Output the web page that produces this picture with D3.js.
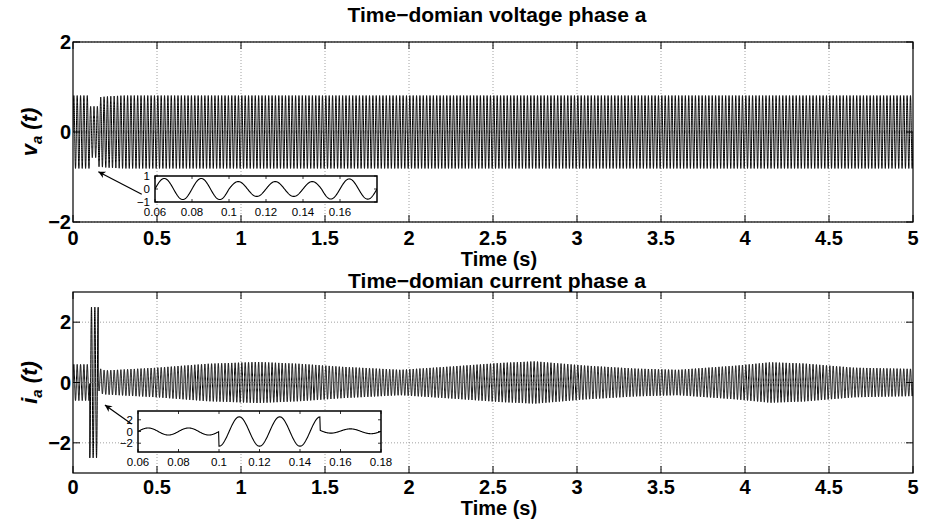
<!DOCTYPE html>
<html>
<head>
<meta charset="utf-8">
<script src="https://cdn.jsdelivr.net/npm/d3@7/dist/d3.min.js"></script>
<style>
  body { margin: 0; background: #fff; }
  text { font-family: "Liberation Sans", Arial, Helvetica, sans-serif; fill: #000; }
</style>
</head>
<body>
<svg id="fig" width="939" height="523"></svg>
<script>
// ---- Phase-a waveforms of the 50 Hz system, 0..5 s ----
const lineFrequencyHz = 50;
const timeTicks = [0, 0.5, 1, 1.5, 2, 2.5, 3, 3.5, 4, 4.5, 5];

// Voltage: peak amplitude envelope (knots), one segment
const voltageTicks = [-2, 0, 2];
const voltageEnvTime = [0, 0.10, 0.10, 0.15, 0.15, 0.20, 0.30, 5];
const voltageEnvAmp  = [0.81, 0.81, 0.57, 0.57, 0.77, 0.79, 0.81, 0.81];
const voltageSegStart = [0];
const voltageSegPhaseDeg = [0];
const voltageSegDC = [0];

// Current: peak amplitude envelope (knots) and fault segments
const currentTicks = [-2, 0, 2];
const currentEnvTime = [0, 0.10, 0.10, 0.15, 0.15, 0.20, 0.50, 0.80, 1.10, 1.35, 1.60, 1.95, 2.25, 2.55, 2.75, 3.05, 3.35, 3.60, 3.95, 4.15, 4.35, 4.65, 5];
const currentEnvAmp  = [0.60, 0.60, 2.50, 2.50, 0.40, 0.40, 0.49, 0.62, 0.68, 0.62, 0.52, 0.42, 0.53, 0.65, 0.70, 0.56, 0.46, 0.42, 0.56, 0.67, 0.63, 0.49, 0.45];
const currentSegStart = [0, 0.10, 0.15];
const currentSegPhaseDeg = [0, -90, 0];
const currentSegDC = [0, 0, 0.18];
const currentDCDecay = 0.012;

// Zoomed views of the disturbance
const insetTimeDomain = [0.06, 0.18];
const voltageInsetTicksX = [0.06, 0.08, 0.10, 0.12, 0.14, 0.16];
const voltageInsetTicksY = [-1, 0, 1];
const voltageInsetDomain = [-1, 1];
const currentInsetTicksX = [0.06, 0.08, 0.10, 0.12, 0.14, 0.16, 0.18];
const currentInsetTicksY = [-2, 0, 2];
const currentInsetDomain = [-3.5, 3.5];

// Arrow annotations, in the parent axes' data units: [tail t, tail y, head t, head y]
const voltageArrow = [0.409, -1.384, 0.151, -0.882];
const currentArrow = [0.349, -1.376, 0.190, -0.746];

// ---- sampled series ----
const sampleRate = 5000;
const sampleTimes = d3.range(0, 5 * sampleRate + 1).map(i => i / sampleRate);

function waveform(envT, envA, segStart, segPhase, segDC, dcTau) {
  return t => {
    const s = d3.bisectRight(segStart, t) - 1;
    const k = d3.bisectRight(envT, t);
    let a;
    if (k >= envT.length) a = envA[envA.length - 1];
    else {
      const t0 = envT[k - 1], t1 = envT[k];
      a = envA[k - 1] + (envA[k] - envA[k - 1]) * (t - t0) / (t1 - t0);
    }
    const dc = segDC[s] * Math.exp(-(t - segStart[s]) / (dcTau || 1));
    return a * Math.sin(2 * Math.PI * lineFrequencyHz * t + segPhase[s] * Math.PI / 180) + dc;
  };
}
const vFn = waveform(voltageEnvTime, voltageEnvAmp, voltageSegStart, voltageSegPhaseDeg, voltageSegDC, 1);
const iFn = waveform(currentEnvTime, currentEnvAmp, currentSegStart, currentSegPhaseDeg, currentSegDC, currentDCDecay);
const voltageSeries = sampleTimes.map(t => ({ t, v: vFn(t) }));
const currentSeries = sampleTimes.map(t => ({ t, v: iFn(t) }));

// ---- layout ----
const svg = d3.select("#fig");
const plotLeft = 73, plotRight = 913;
const tickLen = 7;
const fmt = d => (d < 0 ? "\u2212" : "") + String(Math.abs(d));

const panels = [
  { key: "v", top: 42, bottom: 222, domain: [-2, 2], ticks: voltageTicks, series: voltageSeries,
    title: "Time\u2212domian voltage phase a", titleY: 22, tickY: 245, xLabelY: 266,
    yName: "v", arrow: voltageArrow,
    inset: { left: 155, right: 377, top: 176, bottom: 202, domain: voltageInsetDomain,
             ticksX: voltageInsetTicksX, ticksY: voltageInsetTicksY } },
  { key: "i", top: 292, bottom: 473, domain: [-3, 3], ticks: currentTicks, series: currentSeries,
    title: "Time\u2212domian current phase a", titleY: 288, tickY: 494, xLabelY: 515,
    yName: "i", arrow: currentArrow,
    inset: { left: 138, right: 381, top: 411, bottom: 452, domain: currentInsetDomain,
             ticksX: currentInsetTicksX, ticksY: currentInsetTicksY } }
];

const defs = svg.append("defs");
defs.append("marker")
  .attr("id", "head").attr("viewBox", "0 0 10 10").attr("refX", 10).attr("refY", 5)
  .attr("markerWidth", 9).attr("markerHeight", 7).attr("markerUnits", "userSpaceOnUse")
  .attr("orient", "auto")
  .append("path").attr("d", "M0,0 L10,5 L0,10 L3,5 Z").attr("fill", "#000");

panels.forEach((p, idx) => {
  const x = d3.scaleLinear().domain([0, 5]).range([plotLeft, plotRight]);
  const y = d3.scaleLinear().domain(p.domain).range([p.bottom, p.top]);
  const g = svg.append("g");

  defs.append("clipPath").attr("id", "clip" + idx)
    .append("rect").attr("x", plotLeft).attr("y", p.top)
    .attr("width", plotRight - plotLeft).attr("height", p.bottom - p.top);

  // dotted grid
  const grid = g.append("g").attr("stroke", "#8a8a8a").attr("stroke-width", 0.8)
    .attr("stroke-dasharray", "1,2");
  grid.selectAll(".gx").data(timeTicks.slice(1, -1)).join("line")
    .attr("x1", d => x(d)).attr("x2", d => x(d)).attr("y1", p.top).attr("y2", p.bottom);
  grid.selectAll(".gy").data(p.ticks).join("line")
    .attr("x1", plotLeft).attr("x2", plotRight).attr("y1", d => y(d)).attr("y2", d => y(d));

  // waveform
  const line = d3.line().x(d => x(d.t)).y(d => y(d.v));
  g.append("path").datum(p.series).attr("clip-path", `url(#clip${idx})`)
    .attr("d", line).attr("fill", "none").attr("stroke", "#000").attr("stroke-width", 1);

  // box and inward ticks
  g.append("rect").attr("x", plotLeft).attr("y", p.top)
    .attr("width", plotRight - plotLeft).attr("height", p.bottom - p.top)
    .attr("fill", "none").attr("stroke", "#000").attr("stroke-width", 1.2);
  const tk = g.append("g").attr("stroke", "#000").attr("stroke-width", 1);
  timeTicks.forEach(d => {
    tk.append("line").attr("x1", x(d)).attr("x2", x(d)).attr("y1", p.bottom).attr("y2", p.bottom - tickLen);
    tk.append("line").attr("x1", x(d)).attr("x2", x(d)).attr("y1", p.top).attr("y2", p.top + tickLen);
  });
  p.ticks.forEach(d => {
    tk.append("line").attr("x1", plotLeft).attr("x2", plotLeft + tickLen).attr("y1", y(d)).attr("y2", y(d));
    tk.append("line").attr("x1", plotRight).attr("x2", plotRight - tickLen).attr("y1", y(d)).attr("y2", y(d));
  });

  // tick labels
  g.selectAll(".xl").data(timeTicks).join("text")
    .attr("x", d => x(d)).attr("y", p.tickY).attr("text-anchor", "middle")
    .attr("font-size", 20).attr("font-weight", "bold").text(d => String(d));
  g.selectAll(".yl").data(p.ticks).join("text")
    .attr("x", plotLeft - 2).attr("y", d => y(d)).attr("dy", "0.36em").attr("text-anchor", "end")
    .attr("font-size", 20).attr("font-weight", "bold").text(fmt);

  // title and axis labels
  g.append("text").attr("x", 497).attr("y", p.titleY).attr("text-anchor", "middle")
    .attr("font-size", 21).attr("font-weight", "bold").text(p.title);
  g.append("text").attr("x", 499).attr("y", p.xLabelY).attr("text-anchor", "middle")
    .attr("font-size", 20).attr("font-weight", "bold").text("Time (s)");
  const yl = g.append("text")
    .attr("transform", `translate(37,${(p.top + p.bottom) / 2}) rotate(-90)`)
    .attr("text-anchor", "middle").attr("font-size", 22).attr("font-weight", "bold")
    .attr("font-style", "italic");
  yl.append("tspan").text(p.yName);
  yl.append("tspan").attr("dy", 5).attr("font-size", 15).text("a");
  yl.append("tspan").attr("dy", -5).text(" (t)");

  // arrow toward the disturbance
  const a = p.arrow;
  g.append("line").attr("x1", x(a[0])).attr("y1", y(a[1])).attr("x2", x(a[2])).attr("y2", y(a[3]))
    .attr("stroke", "#000").attr("stroke-width", 1.2).attr("marker-end", "url(#head)");

  // inset axes
  const ins = p.inset;
  const ix = d3.scaleLinear().domain(insetTimeDomain).range([ins.left, ins.right]);
  const iy = d3.scaleLinear().domain(ins.domain).range([ins.bottom, ins.top]);
  const ig = svg.append("g");
  defs.append("clipPath").attr("id", "iclip" + idx)
    .append("rect").attr("x", ins.left).attr("y", ins.top)
    .attr("width", ins.right - ins.left).attr("height", ins.bottom - ins.top);
  ig.append("rect").attr("x", ins.left).attr("y", ins.top)
    .attr("width", ins.right - ins.left).attr("height", ins.bottom - ins.top).attr("fill", "#fff");
  const zoomed = p.series.filter(d => d.t >= insetTimeDomain[0] && d.t <= insetTimeDomain[1]);
  ig.append("path").datum(zoomed).attr("clip-path", `url(#iclip${idx})`)
    .attr("d", d3.line().x(d => ix(d.t)).y(d => iy(d.v)))
    .attr("fill", "none").attr("stroke", "#000").attr("stroke-width", 1.1);
  const itk = ig.append("g").attr("stroke", "#000").attr("stroke-width", 0.8);
  ins.ticksX.forEach(d => {
    itk.append("line").attr("x1", ix(d)).attr("x2", ix(d)).attr("y1", ins.bottom).attr("y2", ins.bottom - 3);
    itk.append("line").attr("x1", ix(d)).attr("x2", ix(d)).attr("y1", ins.top).attr("y2", ins.top + 3);
  });
  ins.ticksY.forEach(d => {
    itk.append("line").attr("x1", ins.left).attr("x2", ins.left + 3).attr("y1", iy(d)).attr("y2", iy(d));
    itk.append("line").attr("x1", ins.right).attr("x2", ins.right - 3).attr("y1", iy(d)).attr("y2", iy(d));
  });
  ig.append("rect").attr("x", ins.left).attr("y", ins.top)
    .attr("width", ins.right - ins.left).attr("height", ins.bottom - ins.top)
    .attr("fill", "none").attr("stroke", "#000").attr("stroke-width", 1.5);
  ig.selectAll(".ixl").data(ins.ticksX).join("text")
    .attr("x", d => ix(d)).attr("y", ins.bottom + 14).attr("text-anchor", "middle")
    .attr("font-size", 11.5).text(d => String(d));
  ig.selectAll(".iyl").data(ins.ticksY).join("text")
    .attr("x", ins.left - 5).attr("y", d => iy(d)).attr("dy", "0.36em").attr("text-anchor", "end")
    .attr("font-size", 11.5).text(fmt);
});
</script>
</body>
</html>
